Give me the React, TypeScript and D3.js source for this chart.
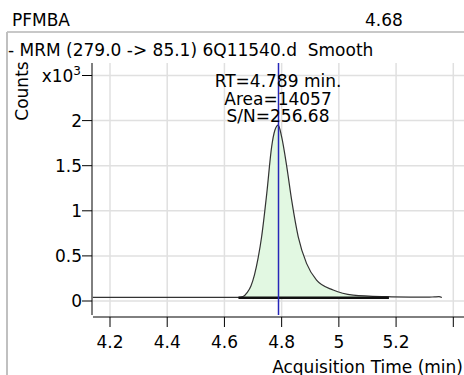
import React, { useEffect } from "react";
import * as d3 from "d3";

const title = "PFMBA";
const rtHeader = "4.68";
const subtitle = "- MRM (279.0 -> 85.1) 6Q11540.d  Smooth";
const xLabel = "Acquisition Time (min)";
const yLabel = "Counts";

const times = [4.14, 4.3, 4.45, 4.6, 4.649, 4.665, 4.68, 4.693, 4.705, 4.718, 4.73, 4.748, 4.765, 4.776, 4.788, 4.8, 4.818, 4.835, 4.858, 4.887, 4.922, 4.98, 5.05, 5.167, 5.25, 5.31, 5.335, 5.35, 5.36];
const counts = [40, 40, 41, 41, 41, 50, 95, 170, 290, 480, 712, 1193, 1709, 1890, 1950, 1819, 1487, 1118, 712, 417, 232, 122, 66, 48, 43, 42, 46, 48, 38];

const integStart = 4.649;
const integEnd = 5.175;
const integLevel = 37;
const rt = 4.789;
const annotations = ["RT=4.789 min.", "Area=14057", "S/N=256.68"];

const xTicks = [4.2, 4.4, 4.6, 4.8, 5, 5.2, 5.4];
const xTickLabels = ["4.2", "4.4", "4.6", "4.8", "5", "5.2", ""];
const yTicks = [0, 500, 1000, 1500, 2000, 2500];
const yTickLabels = ["0", "0.5", "1", "1.5", "2", ""];

export default function App() {
  useEffect(() => {
    document.body.style.margin = "0";
  }, []);

  const W = 464, H = 375;
  const x = d3.scaleLinear().domain([4.2, 5.4]).range([110, 453.3]);
  const y = d3.scaleLinear().domain([0, 2500]).range([301, 75.5]);
  const font = "'DejaVu Sans', Verdana, sans-serif";
  const fs = 17;

  const pts = times.map((t, i) => [t, counts[i]] as [number, number]);
  const line = d3.line<[number, number]>().x(d => x(d[0])).y(d => y(d[1])).curve(d3.curveMonotoneX);

  const inPeak = pts.filter(d => d[0] >= integStart && d[0] <= integEnd);
  const area = d3.area<[number, number]>()
    .x(d => x(d[0])).y0(y(integLevel)).y1(d => y(d[1])).curve(d3.curveMonotoneX);

  const plotTop = 63;
  const axisX = 92;
  const axisY = 317;

  return (
    <div style={{ position: "fixed", left: 0, top: 0 }}>
      <svg width={W} height={H} style={{ display: "block", background: "#fff" }} fontFamily={font}>
        <text x={12} y={26} fontSize={fs} fill="#000">{title}</text>
        <text x={365} y={26} fontSize={fs} fill="#000">{rtHeader}</text>
        <line x1={7} x2={W} y1={32} y2={32} stroke="#c8c8c8" strokeWidth={2} />
        <line x1={7} x2={7} y1={32} y2={H} stroke="#c0c0c0" strokeWidth={2} />
        <text x={8} y={56} fontSize={fs} fill="#000" style={{ whiteSpace: "pre" }} xmlSpace="preserve">{subtitle}</text>

        {/* grid */}
        {xTicks.map((t, i) => (
          <line key={"gx" + i} x1={x(t)} x2={x(t)} y1={plotTop} y2={axisY} stroke="#e0e0e0" strokeWidth={1.5} />
        ))}
        {yTicks.map((t, i) => (
          <line key={"gy" + i} x1={axisX} x2={W} y1={y(t)} y2={y(t)} stroke="#e0e0e0" strokeWidth={1.5} />
        ))}

        {/* peak fill */}
        <path d={area(inPeak) || ""} fill="#e2f8e2" />
        <path d={line(pts) || ""} fill="none" stroke="#333" strokeWidth={1.2} />
        <line x1={x(integStart)} x2={x(integEnd)} y1={y(integLevel)} y2={y(integLevel)} stroke="#111" strokeWidth={2.5} />

        {/* RT line */}
        <line x1={x(rt)} x2={x(rt)} y1={plotTop} y2={315} stroke="#2626b8" strokeWidth={1.5} />

        {/* axes */}
        <line x1={axisX} x2={axisX} y1={63} y2={315} stroke="#000" strokeWidth={1} />
        <line x1={93} x2={W} y1={axisY} y2={axisY} stroke="#000" strokeWidth={1} />
        {yTicks.map((t, i) => (
          <g key={"yt" + i}>
            <line x1={82} x2={axisX} y1={y(t)} y2={y(t)} stroke="#000" />
            {yTickLabels[i] !== "" && (
              <text x={82} y={y(t)} dy="0.36em" textAnchor="end" fontSize={fs} fill="#000">{yTickLabels[i]}</text>
            )}
          </g>
        ))}
        <text x={81} y={y(2500)} dy="0.36em" textAnchor="end" fontSize={fs} fill="#000">
          x10<tspan fontSize={12} dy="-0.55em">3</tspan>
        </text>
        {xTicks.map((t, i) => (
          <g key={"xt" + i}>
            <line x1={x(t)} x2={x(t)} y1={axisY} y2={327} stroke="#000" />
            <text x={x(t)} y={348} textAnchor="middle" fontSize={fs} fill="#000">{xTickLabels[i]}</text>
          </g>
        ))}
        <text x={463} y={373} textAnchor="end" fontSize={fs} fill="#000">{xLabel}</text>
        <text transform="translate(28,91) rotate(-90)" textAnchor="middle" fontSize={fs} fill="#000">{yLabel}</text>

        {annotations.map((a, i) => (
          <text key={"an" + i} x={278} y={87 + i * 17.5} textAnchor="middle" fontSize={fs} fill="#000">{a}</text>
        ))}
      </svg>
    </div>
  );
}
